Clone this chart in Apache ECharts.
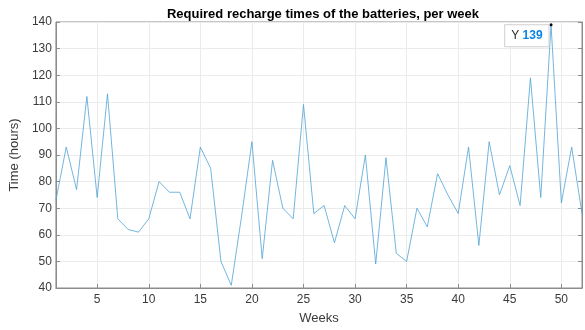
<!DOCTYPE html>
<html>
<head>
<meta charset="utf-8">
<script src="https://cdn.jsdelivr.net/npm/echarts@6/dist/echarts.min.js"></script>
<style>
  html, body { margin: 0; padding: 0; background: #fff; }
  #chart { width: 585px; height: 330px; }
</style>
</head>
<body>
<div id="chart"></div>
<script>
// Weekly battery recharge times (hours), weeks 1..52
const weeks = Array.from({ length: 52 }, (_, i) => i + 1);
const rechargeHours = [
  73, 93, 77, 112, 74, 113, 66, 62, 61, 66,
  80, 76, 76, 66, 93, 85, 50, 41, 67, 95,
  51, 88, 70, 66, 109, 68, 71, 57, 71, 66,
  90, 49, 89, 53, 50, 70, 63, 83, 75, 68,
  93, 56, 95, 75, 86, 71, 119, 74, 139, 72,
  93, 68
];
const weekTicks = [5, 10, 15, 20, 25, 30, 35, 40, 45, 50];
const tipWeek = 49;

const font = '"Liberation Sans", Arial, Helvetica, sans-serif';
const axisGray = '#8c8c8c';
const textDark = '#3a3a3a';
const gridGray = '#ebebeb';

const seriesData = weeks.map((w, i) => {
  if (w === tipWeek) {
    return {
      value: [w, rechargeHours[i]],
      symbol: 'circle',
      symbolSize: 3,
      itemStyle: { color: '#000' },
      label: {
        show: true,
        position: [0, 0],
        align: 'right',
        verticalAlign: 'top',
        offset: [-1, 2],
        formatter: p => '{a|Y }{b|' + p.value[1] + '}',
        backgroundColor: '#fff',
        borderColor: '#cfcfcf',
        borderWidth: 1,
        padding: [5, 6, 4, 6],
        rich: {
          a: { fontFamily: font, fontSize: 12, color: '#262626' },
          b: { fontFamily: font, fontSize: 12, color: '#0b84e6', fontWeight: 'bold' }
        }
      }
    };
  }
  return { value: [w, rechargeHours[i]] };
});

const chart = echarts.init(document.getElementById('chart'), null, { renderer: 'canvas' });
chart.setOption({
  animation: false,
  backgroundColor: '#fff',
  title: {
    text: 'Required recharge times of the batteries, per week',
    left: 318,
    textAlign: 'center',
    top: 3,
    textStyle: { fontFamily: font, fontSize: 13, fontWeight: 'bold', color: '#000' }
  },
  grid: { left: 54, right: 3, top: 22, bottom: 37, show: true, borderColor: axisGray, borderWidth: 1 },
  xAxis: [{
    type: 'value',
    min: 1,
    max: 52,
    name: 'Weeks',
    nameLocation: 'middle',
    nameGap: 24,
    nameTextStyle: { fontFamily: font, fontSize: 13, color: textDark },
    axisLine: { show: true, lineStyle: { color: axisGray } },
    axisTick: { show: true, inside: true, length: 4, customValues: weekTicks, lineStyle: { color: axisGray } },
    axisLabel: { customValues: weekTicks, fontFamily: font, fontSize: 12, color: textDark, margin: 6 },
    splitLine: { show: true, lineStyle: { color: gridGray } }
  }],
  yAxis: [{
    type: 'value',
    min: 40,
    max: 140,
    interval: 10,
    name: 'Time (hours)',
    nameLocation: 'middle',
    nameGap: 31,
    nameTextStyle: { fontFamily: font, fontSize: 13, color: textDark },
    axisLine: { show: true, lineStyle: { color: axisGray } },
    axisTick: { show: true, inside: true, length: 4, lineStyle: { color: axisGray } },
    axisLabel: { fontFamily: font, fontSize: 12, color: textDark, margin: 4 },
    splitLine: { show: true, lineStyle: { color: gridGray } }
  }, {
    type: 'value',
    min: 40,
    max: 140,
    interval: 10,
    position: 'right',
    axisLine: { show: true, lineStyle: { color: axisGray } },
    axisTick: { show: true, inside: true, length: 4, lineStyle: { color: axisGray } },
    axisLabel: { show: false },
    splitLine: { show: false }
  }],
  series: [{
    type: 'line',
    data: seriesData,
    symbol: 'none',
    showSymbol: true,
    lineStyle: { color: '#4fa3d6', width: 0.8 },
    itemStyle: { color: '#4fa3d6' },
    z: 3
  }]
});
</script>
</body>
</html>
